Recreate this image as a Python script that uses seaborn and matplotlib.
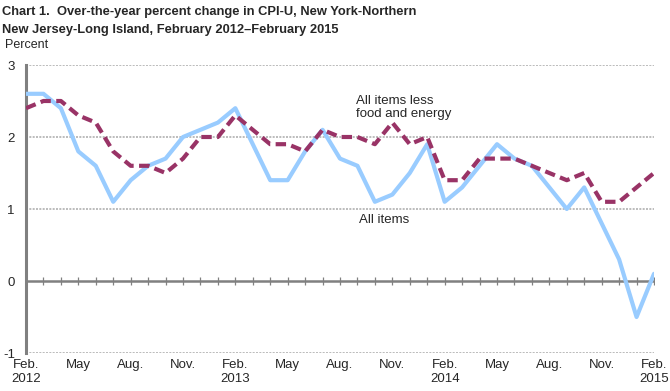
import numpy as np
import pandas as pd
import matplotlib
matplotlib.use("Agg")
import matplotlib.pyplot as plt
import seaborn as sns

months = ["Feb 2012", "Mar 2012", "Apr 2012", "May 2012", "Jun 2012", "Jul 2012", "Aug 2012",
          "Sep 2012", "Oct 2012", "Nov 2012", "Dec 2012", "Jan 2013", "Feb 2013", "Mar 2013",
          "Apr 2013", "May 2013", "Jun 2013", "Jul 2013", "Aug 2013", "Sep 2013", "Oct 2013",
          "Nov 2013", "Dec 2013", "Jan 2014", "Feb 2014", "Mar 2014", "Apr 2014", "May 2014",
          "Jun 2014", "Jul 2014", "Aug 2014", "Sep 2014", "Oct 2014", "Nov 2014", "Dec 2014",
          "Jan 2015", "Feb 2015"]
all_items = [2.6, 2.6, 2.4, 1.8, 1.6, 1.1, 1.4, 1.6, 1.7, 2.0, 2.1, 2.2, 2.4, 1.9,
             1.4, 1.4, 1.8, 2.1, 1.7, 1.6, 1.1, 1.2, 1.5, 1.9, 1.1, 1.3, 1.6, 1.9,
             1.7, 1.6, 1.3, 1.0, 1.3, 0.8, 0.3, -0.5, 0.1]
core = [2.4, 2.5, 2.5, 2.3, 2.2, 1.8, 1.6, 1.6, 1.5, 1.7, 2.0, 2.0, 2.3, 2.1,
        1.9, 1.9, 1.8, 2.1, 2.0, 2.0, 1.9, 2.2, 1.9, 2.0, 1.4, 1.4, 1.7, 1.7,
        1.7, 1.6, 1.5, 1.4, 1.5, 1.1, 1.1, 1.3, 1.5]
tick_labels = ["Feb.\n2012", "May", "Aug.", "Nov.", "Feb.\n2013", "May", "Aug.", "Nov.",
               "Feb.\n2014", "May", "Aug.", "Nov.", "Feb.\n2015"]
y_ticks = [-1, 0, 1, 2, 3]

sns.set_style("white")
plt.rcParams['font.family'] = ['Liberation Sans', 'DejaVu Sans']

idx = np.arange(len(months))
df = pd.DataFrame({"idx": idx, "All items": all_items, "Core": core})

fig = plt.figure(figsize=(6.7, 3.91), dpi=100)
ax = fig.add_axes([26/670, 1-353/391, (654-26)/670, (353-65)/391])

for y in [3, 2, 1, -1]:
    ax.axhline(y, color="#b0b0b0", lw=1.2, ls=(0, (1.2, 0.8)), zorder=1)
ax.axhline(0, color="#808080", lw=1.8, zorder=2)
ax.scatter(idx, np.zeros(len(idx)), marker="|", s=36, color="#808080", linewidths=0.9, zorder=2)

sns.lineplot(data=df, x="idx", y="All items", ax=ax, color="#99ccff", lw=3.0, zorder=4)
sns.lineplot(data=df, x="idx", y="Core", ax=ax, color="#993366", lw=3.0, zorder=5)
ax.lines[-1].set_dashes([2.5, 1.3])

ax.set_xlim(0, len(months) - 1)
ax.set_ylim(-1, 3)
ax.set_yticks(y_ticks)
ax.set_yticklabels([str(v) for v in y_ticks], fontsize=9.5)
ax.set_xticks(idx[::3])
ax.set_xticklabels(tick_labels, fontsize=9.5, linespacing=1.3)
ax.tick_params(axis="both", length=0, pad=4)
ax.tick_params(axis="y", pad=8)
ax.set_xlabel("")
ax.set_ylabel("")
for s in ["top", "right", "bottom"]:
    ax.spines[s].set_visible(False)
ax.spines["left"].set_color("#808080")
ax.spines["left"].set_linewidth(2.2)

ax.text(18.9, 2.41, "All items less\nfood and energy", fontsize=9.5, va="center", ha="left", linespacing=1.15)
ax.text(19.1, 0.85, "All items", fontsize=9.5, va="center", ha="left")

fig.text(2/670, 1-12/391, "Chart 1.  Over-the-year percent change in CPI-U, New York-Northern",
         fontsize=9.3, fontweight="bold", va="center", ha="left")
fig.text(2/670, 1-30/391, "New Jersey-Long Island, February 2012\u2013February 2015",
         fontsize=9.3, fontweight="bold", va="center", ha="left")
fig.text(5/670, 1-45/391, "Percent", fontsize=9, va="center", ha="left")

fig.savefig("out.png", dpi=100)
